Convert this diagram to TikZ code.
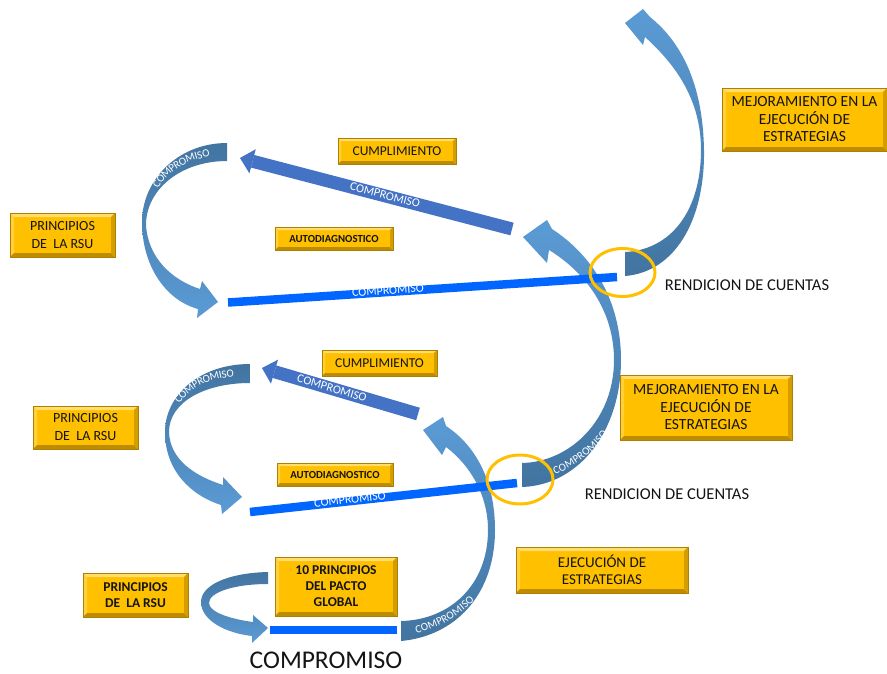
\documentclass[tikz,border=0pt]{standalone}
\usepackage{fontspec}
\setmainfont{Carlito}
\usetikzlibrary{arrows.meta,decorations.text,calc,shapes.geometric}

\definecolor{boxgold}{RGB}{255,192,0}
\definecolor{bevtop}{RGB}{255,222,110}
\definecolor{bevleft}{RGB}{255,208,60}
\definecolor{bevbottom}{RGB}{190,140,0}
\definecolor{bevright}{RGB}{212,158,0}
\definecolor{boxline}{RGB}{175,128,0}
\definecolor{barblue}{RGB}{0,102,255}
\definecolor{slantblue}{RGB}{68,114,196}
\definecolor{arclight}{RGB}{91,155,213}
\definecolor{arcdark}{RGB}{66,116,160}
\definecolor{ringgold}{RGB}{255,192,0}
\definecolor{inktext}{RGB}{20,20,20}

\newcommand\curvefont{\fontsize{11}{11}\selectfont}

\tikzset{
  goldbox/.style={draw=boxline, line width=0.6pt, fill=boxgold, inner sep=1pt,
    align=center, text=inktext,
    path picture={
      \path (path picture bounding box.north west) coordinate (pp-nw)
            (path picture bounding box.north east) coordinate (pp-ne)
            (path picture bounding box.south east) coordinate (pp-se)
            (path picture bounding box.south west) coordinate (pp-sw);
      \fill[bevtop] (pp-nw) -- (pp-ne) -- ($(pp-ne)+(-#1,-#1)$) -- ($(pp-nw)+(#1,-#1)$) -- cycle;
      \fill[bevleft] (pp-nw) -- (pp-sw) -- ($(pp-sw)+(#1,#1)$) -- ($(pp-nw)+(#1,-#1)$) -- cycle;
      \fill[bevbottom] (pp-sw) -- (pp-se) -- ($(pp-se)+(-#1,#1)$) -- ($(pp-sw)+(#1,#1)$) -- cycle;
      \fill[bevright] (pp-ne) -- (pp-se) -- ($(pp-se)+(-#1,#1)$) -- ($(pp-ne)+(-#1,-#1)$) -- cycle;
    }},
  goldbox/.default=4pt,
  barline/.style={barblue, line width=8.5pt},
  slantarrow/.style={slantblue, line width=13pt,
    -{Triangle[width=25pt,length=13pt,line width=0pt]}},
  whitelabel/.style={text=white, font=\fontsize{12}{12}\selectfont, inner sep=0pt},
  curvelabel/.style={decorate, decoration={text along path, text align=center,
    raise=-3.5pt, text color=white, text={|\curvefont|#1}}},
  ring/.style={draw=ringgold, line width=3pt, ellipse, inner sep=0pt},
  plain/.style={text=inktext, inner sep=0pt}
}

\begin{document}
\begin{tikzpicture}[x=1pt,y=-1pt]
\useasboundingbox (0,0) rectangle (887,673);
\fill[white] (0,0) rectangle (887,673);

% ---------- curved arrows ----------
% upper left loop
\shade[top color=arcdark, bottom color=arclight]
  (227,143) .. controls (178,143) and (142,180) .. (142,222)
  .. controls (142,265) and (165,300) .. (198,309)
  -- (197,318) -- (218,302) -- (202,281) -- (200,289)
  .. controls (172,280) and (148,258) .. (146,225)
  .. controls (146,190) and (180,161) .. (227,161) -- cycle;
% middle left loop
\shade[top color=arcdark, bottom color=arclight]
  (250,364) .. controls (200,364) and (165,395) .. (165,432)
  .. controls (165,470) and (190,495) .. (221,505)
  -- (222,514) -- (242,497) -- (223,477) -- (223,485)
  .. controls (195,476) and (170,460) .. (169,432)
  .. controls (169,402) and (205,383) .. (250,383) -- cycle;
% lower left loop
\shade[top color=arcdark, bottom color=arclight]
  (268,572) .. controls (228,573) and (201,585) .. (201,602)
  .. controls (201,620) and (225,633) .. (252,636)
  -- (252,643) -- (268,628) -- (253,615) -- (253,622)
  .. controls (230,619) and (209,612) .. (209,603)
  .. controls (209,592) and (235,584) .. (268,584) -- cycle;
% rising arc, bottom
\shade[top color=arclight, bottom color=arcdark]
  (401,641) .. controls (455,636) and (495,595) .. (495,530)
  .. controls (495,480) and (475,445) .. (446,426)
  -- (443,417) -- (423,430) -- (442,455) -- (446,447)
  .. controls (470,465) and (488,495) .. (488,530)
  .. controls (488,585) and (450,620) .. (401,621) -- cycle;
% rising arc, middle
\shade[top color=arclight, bottom color=arcdark]
  (522,487) .. controls (580,485) and (621,430) .. (621,360)
  .. controls (621,300) and (592,255) .. (552,229)
  -- (547,220) -- (523,237) -- (547,263) -- (549,250)
  .. controls (585,272) and (614,310) .. (614,360)
  .. controls (614,420) and (570,462) .. (522,463) -- cycle;
% rising arc, top
\shade[top color=arclight, bottom color=arcdark]
  (625,276) .. controls (675,272) and (705,220) .. (704,150)
  .. controls (703,90) and (685,45) .. (650,17)
  -- (643,9) -- (625,23) -- (643,45) -- (645,37)
  .. controls (676,65) and (701,100) .. (701,150)
  .. controls (701,212) and (670,250) .. (625,252) -- cycle;

% labels along the curved arrows
\path[curvelabel=COMPROMISO] (148,204) .. controls (158,170) and (185,152) .. (228,152);
\path[curvelabel=COMPROMISO] (170,416) .. controls (180,385) and (208,372) .. (250,373);
\path[curvelabel=COMPROMISO] (403,632) .. controls (430,629) and (460,615) .. (480,588);
\path[curvelabel=COMPROMISO] (538,475) .. controls (565,471) and (596,450) .. (614,418);

% ---------- straight bars ----------
\coordinate (barAw) at (228,302.5);
\coordinate (barAe) at (617,277);
\coordinate (barBw) at (250,512);
\coordinate (barBe) at (517,483);
\coordinate (barCw) at (270,630);
\coordinate (barCe) at (397,630);
\draw[barline] (barAw) -- (barAe);
\draw[barline] (barBw) -- (barBe);
\draw[barline] (barCw) -- (barCe);
\node[whitelabel, rotate=3.75] (barAlbl) at (388,290.5) {COMPROMISO};
\node[whitelabel, rotate=6.2] (barBlbl) at (350,499.5) {COMPROMISO};

% ---------- slanted arrows ----------
\coordinate (slAtail) at (512,229);
\coordinate (slAtip) at (240,158);
\coordinate (slBtail) at (418,414);
\coordinate (slBtip) at (262,368);
\draw[slantarrow] (slAtail) -- (slAtip);
\draw[slantarrow] (slBtail) -- (slBtip);
\node[whitelabel, rotate=-14.6] (slAlbl) at (385,195) {COMPROMISO};
\node[whitelabel, rotate=-16.4] (slBlbl) at (332,388) {COMPROMISO};

% ---------- rings ----------
\node[ring, minimum width=65pt, minimum height=48pt] (ringA) at (622.5,272.5) {};
\node[ring, minimum width=66pt, minimum height=49pt] (ringB) at (520,479.5) {};

% ---------- plain texts ----------
\node[plain, font=\fontsize{16.5}{18}\selectfont] (rendA) at (747,285) {RENDICION DE CUENTAS};
\node[plain, font=\fontsize{16.5}{18}\selectfont] (rendB) at (667,494) {RENDICION DE CUENTAS};
\node[plain, font=\fontsize{25.5}{28}\selectfont] (compr) at (326,660) {COMPROMISO};

% ---------- boxes ----------
\node[goldbox, minimum width=165pt, minimum height=63pt, font=\fontsize{15.5}{17.5}\selectfont]
  (mejA) at (804.5,119.5) {MEJORAMIENTO EN LA\\EJECUCIÓN DE\\ESTRATEGIAS};
\node[goldbox=3pt, minimum width=118pt, minimum height=26pt, font=\fontsize{13.5}{15}\selectfont]
  (cumpA) at (397,151) {CUMPLIMIENTO};
\node[goldbox, minimum width=105pt, minimum height=44pt, font=\fontsize{14}{18}\selectfont]
  (prinA) at (62.5,235) {PRINCIPIOS\\DE~~LA RSU};
\node[goldbox=3pt, minimum width=118pt, minimum height=23pt, font=\bfseries\fontsize{10.8}{12}\selectfont]
  (autoA) at (334,238.5) {AUTODIAGNOSTICO};
\node[goldbox=3pt, minimum width=115pt, minimum height=26pt, font=\fontsize{13.5}{15}\selectfont]
  (cumpB) at (379.5,363) {CUMPLIMIENTO};
\node[goldbox, minimum width=105pt, minimum height=43pt, font=\fontsize{14}{18}\selectfont]
  (prinB) at (85.5,427.5) {PRINCIPIOS\\DE~~LA RSU};
\node[goldbox, minimum width=172pt, minimum height=65pt, font=\fontsize{15.5}{17.5}\selectfont]
  (mejB) at (706,407.5) {MEJORAMIENTO EN LA\\EJECUCIÓN DE\\ESTRATEGIAS};
\node[goldbox=3pt, minimum width=116pt, minimum height=23pt, font=\bfseries\fontsize{10.8}{12}\selectfont]
  (autoB) at (335,474.5) {AUTODIAGNOSTICO};
\node[goldbox, minimum width=172pt, minimum height=46pt, font=\fontsize{15}{17}\selectfont]
  (ejecA) at (602,570) {EJECUCIÓN DE\\ESTRATEGIAS};
\node[goldbox, minimum width=105pt, minimum height=44pt, font=\bfseries\fontsize{13.5}{16}\selectfont]
  (prinC) at (135.5,595) {PRINCIPIOS\\DE~~LA RSU};
\node[goldbox, minimum width=122pt, minimum height=59pt, font=\bfseries\fontsize{13.5}{16}\selectfont]
  (pactoA) at (336,586.5) {10 PRINCIPIOS\\DEL PACTO\\GLOBAL};
\end{tikzpicture}
\end{document}
